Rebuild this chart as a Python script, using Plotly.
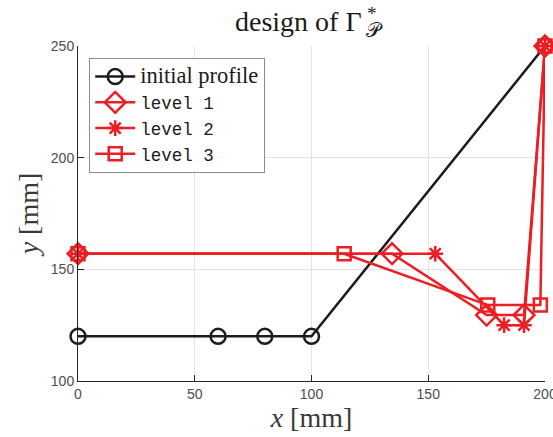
import plotly.graph_objects as go

# profile data [mm]
initial_x = [0, 60, 80, 100, 200]
initial_y = [120, 120, 120, 120, 250]

level1_x = [0, 134.5, 175, 191, 200]
level1_y = [157, 157, 129.5, 129.5, 250]

level2_x = [0, 153, 182.5, 191, 200]
level2_y = [157, 157, 125, 125, 250]

level3_x = [0, 114, 175.5, 198, 200]
level3_y = [157, 157, 134, 134, 250]

x_ticks = [0, 50, 100, 150, 200]
y_ticks = [100, 150, 200, 250]

BLACK = "#1c1c1c"
RED = "#ec1e24"
SERIF = "Liberation Serif, DejaVu Serif, serif"
MONO = "Liberation Mono, DejaVu Sans Mono, monospace"


def label(text, family, size=None):
    style = f"font-family:{family}"
    if size:
        style += f";font-size:{size}px"
    return f'<span style="{style}">{text}</span>'


fig = go.Figure()

fig.add_trace(go.Scatter(
    x=initial_x, y=initial_y, mode="lines+markers",
    name=label("initial profile", SERIF, 22.5),
    line=dict(color=BLACK, width=2.5),
    marker=dict(symbol="circle-open", size=15, color=BLACK, line=dict(width=2.5)),
    cliponaxis=False,
))
fig.add_trace(go.Scatter(
    x=level1_x, y=level1_y, mode="lines+markers",
    name=label("level 1", MONO),
    line=dict(color=RED, width=2.5),
    marker=dict(symbol="diamond-open", size=16, color=RED, line=dict(width=2.5)),
    cliponaxis=False,
))
fig.add_trace(go.Scatter(
    x=level2_x, y=level2_y, mode="lines+markers",
    name=label("level 2", MONO),
    line=dict(color=RED, width=2.5),
    marker=dict(symbol="asterisk-open", size=13, color=RED, line=dict(width=2.5, color=RED)),
    cliponaxis=False,
))
fig.add_trace(go.Scatter(
    x=level3_x, y=level3_y, mode="lines+markers",
    name=label("level 3", MONO),
    line=dict(color=RED, width=2.5),
    marker=dict(symbol="square-open", size=13, color=RED, line=dict(width=2.5)),
    cliponaxis=False,
))

axis_common = dict(
    showgrid=True, gridcolor="#e3e3e3", gridwidth=1,
    showline=True, linecolor="#262626", linewidth=1,
    ticks="inside", ticklen=6, tickcolor="#262626",
    tickfont=dict(family="Liberation Sans, Arial, sans-serif", size=14, color="#4d4d4d"),
    zeroline=False, mirror=False, ticklabeloverflow="allow", automargin=False,
)

# title: "design of Γ" with a stacked superscript * and subscript 𝒫
title_font = dict(family=SERIF, color="#1a1a1a")
annotations = [
    dict(text="design of Γ", x=0.6124, y=1.072, xref="paper", yref="paper",
         xanchor="right", yanchor="middle", showarrow=False,
         font=dict(size=28, **title_font)),
    dict(text="*", x=0.6290, y=1.098, xref="paper", yref="paper",
         xanchor="center", yanchor="middle", showarrow=False,
         font=dict(size=19, **title_font)),
    dict(text="𝒫", x=0.6350, y=1.048, xref="paper", yref="paper",
         xanchor="center", yanchor="middle", showarrow=False,
         font=dict(size=20, **title_font)),
]

fig.update_layout(
    width=553, height=437,
    margin=dict(l=78, r=8, t=46, b=56),
    paper_bgcolor="white", plot_bgcolor="white",
    annotations=annotations,
    xaxis=dict(
        range=[0, 200], tickvals=x_ticks,
        title=dict(text="<i>x</i> [mm]", font=dict(family=SERIF, size=28, color="#3a3a3a"), standoff=4),
        **axis_common,
    ),
    yaxis=dict(
        range=[100, 250], tickvals=y_ticks,
        title=dict(text="<i>y</i> [mm]", font=dict(family=SERIF, size=28, color="#3a3a3a"), standoff=4),
        **axis_common,
    ),
    legend=dict(
        x=0.024, y=0.965, xanchor="left", yanchor="top",
        bgcolor="white", bordercolor="#8c8c8c", borderwidth=1,
        font=dict(family=MONO, size=17.5, color="#1a1a1a"),
        itemwidth=40, tracegroupgap=0,
    ),
    showlegend=True,
)

fig.write_html("out.html")
